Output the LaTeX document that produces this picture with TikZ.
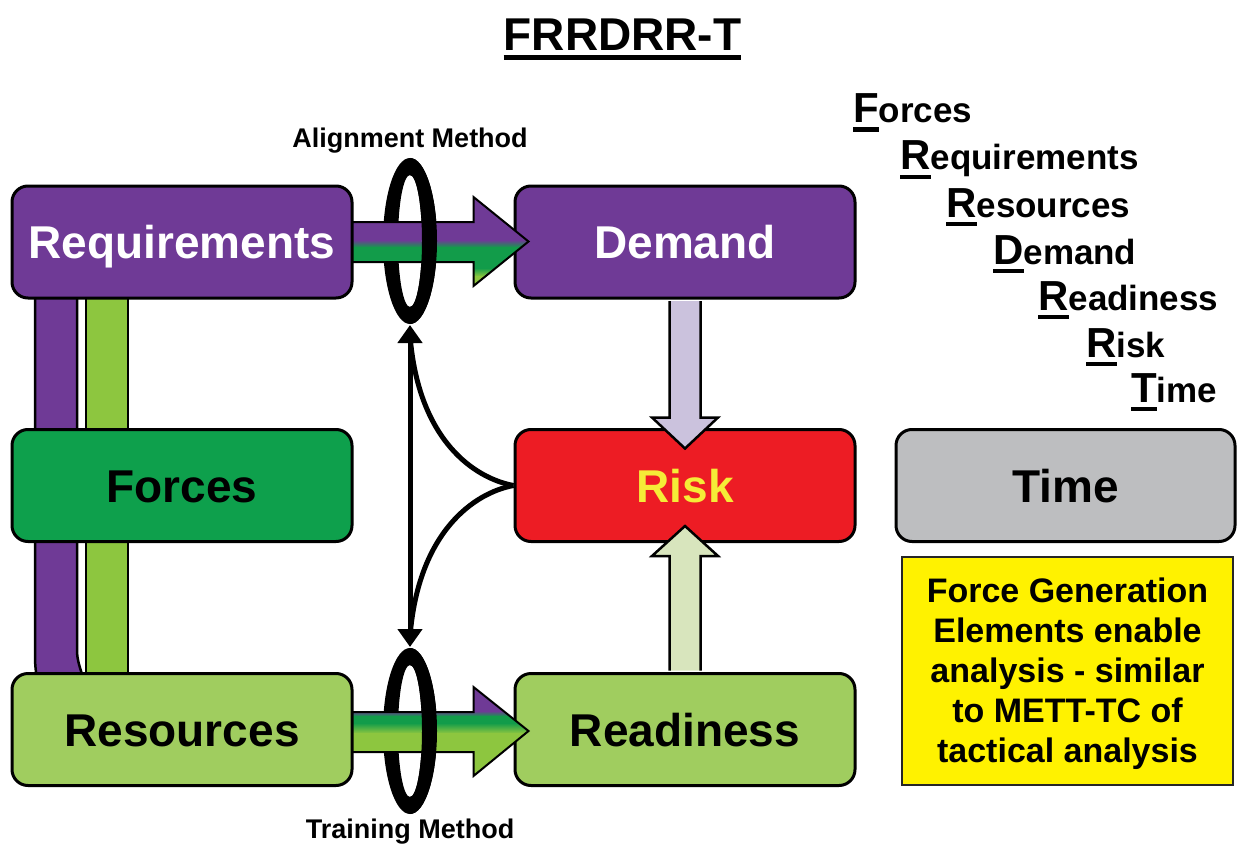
\documentclass[tikz,border=0pt]{standalone}
\usepackage{fontspec}
\setmainfont{Liberation Sans}
\usetikzlibrary{arrows.meta,calc}
\definecolor{purp}{RGB}{111,58,150}
\definecolor{fgreen}{RGB}{14,160,76}
\definecolor{agreen}{RGB}{18,156,74}
\definecolor{lgbox}{RGB}{160,205,95}
\definecolor{barg}{RGB}{141,198,63}
\definecolor{riskred}{RGB}{237,28,36}
\definecolor{risktxt}{RGB}{245,236,55}
\definecolor{timegray}{RGB}{189,190,192}
\definecolor{notey}{RGB}{255,242,0}
\definecolor{lav}{RGB}{203,194,221}
\definecolor{palegreen}{RGB}{216,229,189}
\newcommand\ulet[1]{\setbox0\hbox{#1}\rlap{\rule[-9pt]{\wd0}{4.5pt}}\box0}
\newcommand\firstl[1]{\ulet{\fontsize{42}{46}\selectfont #1}}
\tikzset{
  gbox/.style={draw=black, line width=3pt, rounded corners=16pt, minimum width=340pt,
    minimum height=112pt, inner sep=0pt, text height=33pt, text depth=0pt,
    font=\fontsize{46}{50}\selectfont\bfseries},
  notebox/.style={draw=black!85, line width=2pt, fill=notey, minimum width=331pt,
    minimum height=228pt, inner sep=0pt, align=center, font=\fontsize{34}{40}\selectfont\bfseries},
  blk/.style={draw=black, line width=5pt},
  barstyle/.style={draw=black, line width=2.5pt},
  blockarr/.style={draw=black, line width=2.5pt, line join=miter},
  fatline/.style={draw=black, line width=2pt, line join=miter},
  lbl/.style={inner sep=0pt, anchor=base, font=\fontsize{27}{30}\selectfont\bfseries},
  lst/.style={inner sep=0pt, anchor=base west, font=\fontsize{35}{40}\selectfont\bfseries},
  ttl/.style={inner sep=0pt, anchor=base, font=\fontsize{46}{50}\selectfont\bfseries},
  tip/.tip={Triangle[width=24pt,length=18pt]}
}
\begin{document}
\begin{tikzpicture}[x=1pt,y=-1pt]
\useasboundingbox (0,0) rectangle (1237,848);

% title and labels
\node[ttl] (title) at (622.5,51) {\ulet{FRRDRR-T}};
\node[lbl] (almeth) at (410,148) {Alignment Method};
\node[lbl] (trmeth) at (410,838) {Training Method};

% acronym list
\node[lst] (l1) at (853,123) {\firstl{F}orces};
\node[lst] (l2) at (900,170) {\firstl{R}equirements};
\node[lst] (l3) at (946,217) {\firstl{R}esources};
\node[lst] (l4) at (993,264) {\firstl{D}emand};
\node[lst] (l5) at (1038,310) {\firstl{R}eadiness};
\node[lst] (l6) at (1086,357) {\firstl{R}isk};
\node[lst] (l7) at (1131,402) {\firstl{T}ime};

% vertical bars on the left
\draw[barstyle, fill=purp] (35,285) -- (35,656) .. controls (35,666) and (36,672) .. (37,680)
  -- (84,680) .. controls (80,668) and (77,660) .. (77,650) -- (77,285) -- cycle;
\draw[barstyle, fill=barg] (86,285) rectangle (128,680);

% boxes
\node[gbox, fill=purp, text=white] (req) at (182,242) {Requirements};
\node[gbox, fill=purp, text=white] (dem) at (685,242) {Demand};
\node[gbox, fill=fgreen] (frc) at (182,485.5) {Forces};
\node[gbox, fill=riskred, text=risktxt] (risk) at (685,485.5) {Risk};
\node[gbox, fill=timegray, minimum width=339pt] (time) at (1065.5,485.5) {Time};
\node[gbox, fill=lgbox] (res) at (182,729.5) {Resources};
\node[gbox, fill=lgbox] (rdy) at (685,729.5) {Readiness};
\node[notebox] (note) at (1067.5,671) {\rule{0pt}{30pt}Force Generation\\Elements enable\\analysis - similar\\to METT-TC of\\tactical analysis};

% Demand -> Risk block arrow
\fill[lav] ($(dem.south)+(-15.5,1.5)$) -- ($(dem.south)+(-15.5,118)$) -- ($(dem.south)+(-33,118)$)
  -- ($(dem.south)+(0,149)$) -- ($(dem.south)+(33,118)$) -- ($(dem.south)+(15.5,118)$)
  -- ($(dem.south)+(15.5,1.5)$) -- cycle;
\draw[blockarr] ($(dem.south)+(-15.5,1.5)$) -- ($(dem.south)+(-15.5,118)$) -- ($(dem.south)+(-33,118)$)
  -- ($(dem.south)+(0,149)$) -- ($(dem.south)+(33,118)$) -- ($(dem.south)+(15.5,118)$)
  -- ($(dem.south)+(15.5,1.5)$);

% Readiness -> Risk block arrow
\fill[palegreen] ($(rdy.north)+(-15.5,-1.5)$) -- ($(rdy.north)+(-15.5,-116)$) -- ($(rdy.north)+(-33,-116)$)
  -- ($(rdy.north)+(0,-146)$) -- ($(rdy.north)+(33,-116)$) -- ($(rdy.north)+(15.5,-116)$)
  -- ($(rdy.north)+(15.5,-1.5)$) -- cycle;
\draw[blockarr] ($(rdy.north)+(-15.5,-1.5)$) -- ($(rdy.north)+(-15.5,-116)$) -- ($(rdy.north)+(-33,-116)$)
  -- ($(rdy.north)+(0,-146)$) -- ($(rdy.north)+(33,-116)$) -- ($(rdy.north)+(15.5,-116)$)
  -- ($(rdy.north)+(15.5,-1.5)$);

% ring centres
\coordinate (ringA) at (410,241);
\coordinate (ringB) at (410,731);

% rings (back)
\fill[black, even odd rule] (ringA) ellipse [x radius=27pt, y radius=83pt]
  (ringA) ellipse [x radius=12pt, y radius=66pt];
\fill[black, even odd rule] (ringB) ellipse [x radius=27pt, y radius=83pt]
  (ringB) ellipse [x radius=12pt, y radius=66pt];

% Requirements -> Demand fat arrow
\begin{scope}
\clip ($(req.east)+(-1,-20)$) -- ($(req.east)+(120,-20)$) -- ($(req.east)+(120,-45)$)
  -- ($(req.east)+(175,-0.5)$) -- ($(req.east)+(120,44)$) -- ($(req.east)+(120,20)$)
  -- ($(req.east)+(-1,20)$) -- cycle;
\fill[purp] (340,190) rectangle (540,240.5);
\shade[top color=purp, bottom color=agreen] (340,240) rectangle (540,247.5);
\fill[agreen] (340,247) rectangle (540,268.5);
\shade[top color=agreen, bottom color=barg] (340,268) rectangle (540,276.5);
\fill[barg] (340,276) rectangle (540,295);
\end{scope}
\draw[fatline] ($(req.east)+(-1,-20)$) -- ($(req.east)+(120,-20)$) -- ($(req.east)+(120,-45)$)
  -- ($(req.east)+(175,-0.5)$) -- ($(req.east)+(120,44)$) -- ($(req.east)+(120,20)$)
  -- ($(req.east)+(-1,20)$) -- cycle;

% Resources -> Readiness fat arrow
\begin{scope}
\clip ($(res.east)+(-1,-17.5)$) -- ($(res.east)+(120,-17.5)$) -- ($(res.east)+(120,-42.5)$)
  -- ($(res.east)+(175,1.5)$) -- ($(res.east)+(120,46.5)$) -- ($(res.east)+(120,22.5)$)
  -- ($(res.east)+(-1,22.5)$) -- cycle;
\fill[purp] (340,680) rectangle (540,711.5);
\shade[top color=purp, bottom color=agreen] (340,711) rectangle (540,716.5);
\fill[agreen] (340,716) rectangle (540,723.5);
\shade[top color=agreen, bottom color=barg] (340,723) rectangle (540,733.5);
\fill[barg] (340,733) rectangle (540,785);
\end{scope}
\draw[fatline] ($(res.east)+(-1,-17.5)$) -- ($(res.east)+(120,-17.5)$) -- ($(res.east)+(120,-42.5)$)
  -- ($(res.east)+(175,1.5)$) -- ($(res.east)+(120,46.5)$) -- ($(res.east)+(120,22.5)$)
  -- ($(res.east)+(-1,22.5)$) -- cycle;

% rings (front halves)
\begin{scope}
\clip (410,140) rectangle (450,340);
\fill[black, even odd rule] (ringA) ellipse [x radius=27pt, y radius=83pt]
  (ringA) ellipse [x radius=12pt, y radius=66pt];
\end{scope}
\begin{scope}
\clip (410,630) rectangle (450,830);
\fill[black, even odd rule] (ringB) ellipse [x radius=27pt, y radius=83pt]
  (ringB) ellipse [x radius=12pt, y radius=66pt];
\end{scope}

% black connectors
\draw[blk, tip-tip] ($(ringA)+(0,84)$) -- ($(ringB)+(0,-84)$);
\draw[blk] (risk.west) .. controls ($(risk.west)+(-40,-7.5)$) and ($(ringA)+(10,199)$) .. ($(ringA)+(0.5,100)$);
\draw[blk] (risk.west) .. controls ($(risk.west)+(-40,7.5)$) and ($(ringB)+(10,-199)$) .. ($(ringB)+(0.5,-100)$);
\end{tikzpicture}
\end{document}
